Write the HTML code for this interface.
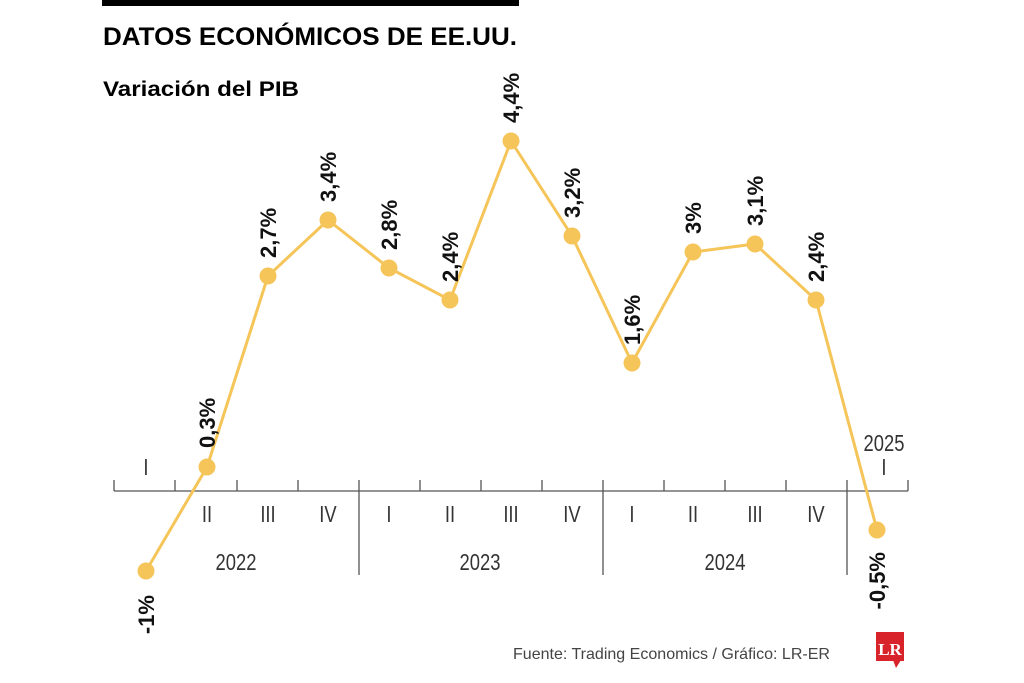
<!DOCTYPE html>
<html><head><meta charset="utf-8"><style>
body{margin:0;background:#fff;}
svg{display:block;font-family:"Liberation Sans",sans-serif;}
</style></head><body>
<svg width="1024" height="683" viewBox="0 0 1024 683">
<rect x="102" y="0" width="417" height="6" fill="#000"/>
<text x="103" y="45" font-size="25" font-weight="bold" textLength="414" lengthAdjust="spacingAndGlyphs">DATOS ECONÓMICOS DE EE.UU.</text>
<text x="103" y="96" font-size="21" font-weight="bold" textLength="196" lengthAdjust="spacingAndGlyphs">Variación del PIB</text>
<g stroke="#555" stroke-width="1.3" fill="none">
<line x1="114" y1="491" x2="908" y2="491"/>
<path d="M114 480V491M175 480V491M237 480V491M298 480V491M420 480V491M481 480V491M542 480V491M664 480V491M725 480V491M786 480V491M908 480V491"/>
<path d="M359 480V575M603 480V575M847 480V575"/>
</g>
<g font-size="23" fill="#333" text-anchor="middle">
<g transform="scale(0.8,1)">
<text x="182.5" y="475">I</text>
<text x="258.75" y="522">II</text><text x="335" y="522">III</text><text x="410" y="522">IV</text>
<text x="486.25" y="522">I</text><text x="562.5" y="522">II</text><text x="638.75" y="522">III</text><text x="715" y="522">IV</text>
<text x="790" y="522">I</text><text x="866.25" y="522">II</text><text x="943.75" y="522">III</text><text x="1020" y="522">IV</text>
<text x="1105" y="475">I</text>
<text x="295" y="570">2022</text><text x="600" y="570">2023</text><text x="906.25" y="570">2024</text>
<text x="1105" y="451">2025</text>
</g>
</g>
<polyline fill="none" stroke="#f5c55a" stroke-width="3" points="146,571 207,467 268,276 328,220 389,268 450,300 511,141 572,236 632,363 693,252 755,244 816,300 877,530"/>
<g fill="#f5c55a">
<circle cx="146" cy="571" r="8.5"/><circle cx="207" cy="467" r="8.5"/><circle cx="268" cy="276" r="8.5"/><circle cx="328" cy="220" r="8.5"/><circle cx="389" cy="268" r="8.5"/><circle cx="450" cy="300" r="8.5"/><circle cx="511" cy="141" r="8.5"/><circle cx="572" cy="236" r="8.5"/><circle cx="632" cy="363" r="8.5"/><circle cx="693" cy="252" r="8.5"/><circle cx="755" cy="244" r="8.5"/><circle cx="816" cy="300" r="8.5"/><circle cx="877" cy="530" r="8.5"/>
</g>
<g font-size="22" font-weight="bold" fill="#111">
<text transform="translate(154,595) rotate(-90)" text-anchor="end">-1%</text>
<text transform="translate(215,448) rotate(-90)">0,3%</text>
<text transform="translate(276,258) rotate(-90)">2,7%</text>
<text transform="translate(336,202) rotate(-90)">3,4%</text>
<text transform="translate(397,250) rotate(-90)">2,8%</text>
<text transform="translate(458,282) rotate(-90)">2,4%</text>
<text transform="translate(519,123) rotate(-90)">4,4%</text>
<text transform="translate(580,218) rotate(-90)">3,2%</text>
<text transform="translate(640,345) rotate(-90)">1,6%</text>
<text transform="translate(701,234) rotate(-90)">3%</text>
<text transform="translate(763,226) rotate(-90)">3,1%</text>
<text transform="translate(824,282) rotate(-90)">2,4%</text>
<text transform="translate(885,552) rotate(-90)" text-anchor="end">-0,5%</text>
</g>
<text x="513" y="659" font-size="16" fill="#444" textLength="317" lengthAdjust="spacingAndGlyphs">Fuente: Trading Economics / Gráfico: LR-ER</text>
<rect x="876" y="632" width="28" height="29" fill="#d9232a"/>
<polygon points="893,660 901,660 896,668" fill="#d9232a"/>
<text x="890" y="655" font-size="17" font-weight="bold" fill="#fff" text-anchor="middle" font-family="Liberation Serif,serif">LR</text>
</svg>
</body></html>
